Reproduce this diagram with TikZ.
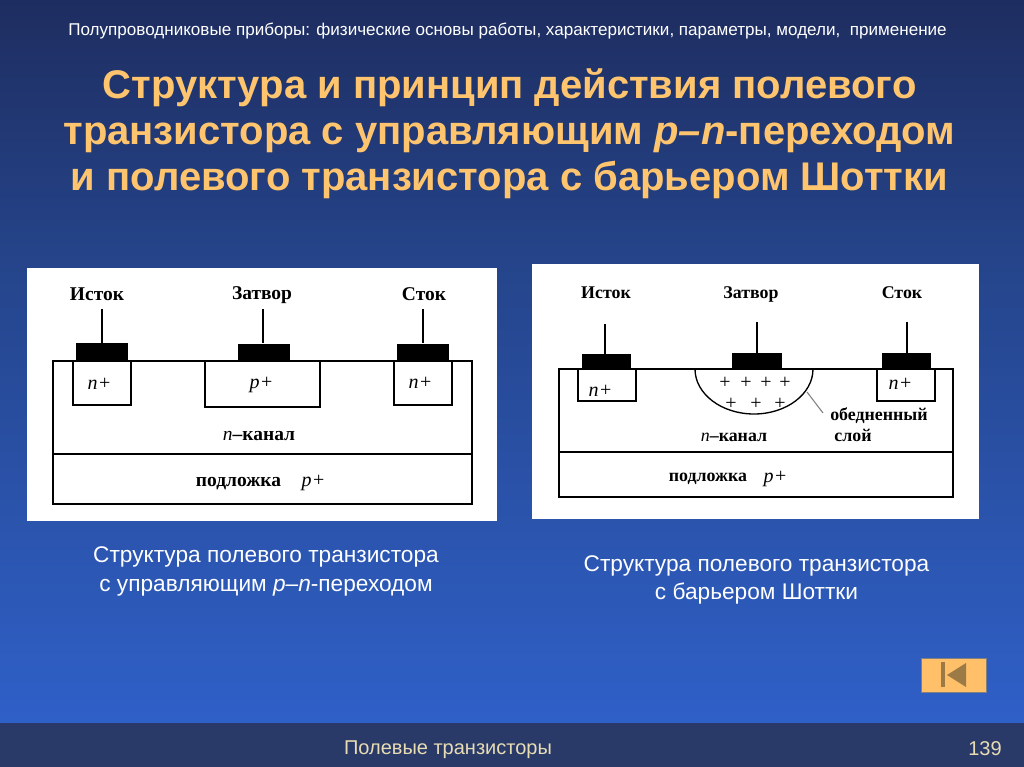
\documentclass[tikz,border=0pt]{standalone}
\usepackage{fontspec}
\setmainfont{Liberation Serif}
\newfontfamily\arialfont{Liberation Sans}
\definecolor{bgtop}{RGB}{30,45,96}
\definecolor{bgmid}{RGB}{37,68,138}
\definecolor{bgbot}{RGB}{47,96,200}
\definecolor{footband}{RGB}{42,58,104}
\definecolor{titlecol}{RGB}{255,196,110}
\definecolor{footcol}{RGB}{232,220,180}
\definecolor{btnfill}{RGB}{255,192,105}
\definecolor{btnicon}{RGB}{156,122,70}
\tikzset{
    pad/.style={fill=black, inner sep=0pt, minimum width=39pt, minimum height=13.5pt},
    padb/.style={pad, minimum width=37pt, minimum height=12pt},
    part/.style={draw=black, line width=1pt},
    lead/.style={draw=black, line width=0.8pt},
    lbl/.style={inner sep=0pt, font=\fontsize{15}{17}\selectfont},
    lblb/.style={lbl, font=\fontsize{14.6}{17}\selectfont\bfseries},
    lblc/.style={lbl, font=\fontsize{13.4}{15}\selectfont\bfseries},
    head/.style={inner sep=0pt, align=center, text=titlecol, font=\arialfont\fontsize{30}{34.5}\selectfont\bfseries},
    capt/.style={inner sep=0pt, align=center, text=white, font=\arialfont\fontsize{17}{21.5}\selectfont},
    foot/.style={inner sep=0pt, text=footcol, font=\arialfont\fontsize{15}{17}\selectfont}
}
\begin{document}
\begin{tikzpicture}[x=0.75pt,y=-0.75pt]
    \useasboundingbox (0,0) rectangle (1024,767);
    \shade[top color=bgtop, bottom color=bgmid] (0,0) rectangle (1024,260);
    \shade[top color=bgmid, bottom color=bgbot] (0,260) rectangle (1024,723);
    \fill[footband] (0,723) rectangle (1024,767);

    \node[inner sep=0pt, text=white, font=\arialfont\fontsize{12.8}{15}\selectfont] (subject) at (507.5, 31) {Полупроводниковые приборы: физические основы работы, характеристики, параметры, модели,\ \ применение};
    \node[head] (title) at (509.5, 134) {Структура и принцип действия полевого\\транзистора с управляющим \textit{p–n}-переходом\\и полевого транзистора с барьером Шоттки};

    % left panel
    \fill[white] (27, 268) rectangle (497, 521);
    \draw[part] (53, 361) rectangle (472, 504);
    \draw[part] (53, 454) -- (472, 454);
    \draw[part] (73, 361) rectangle (131, 405);
    \draw[part] (205, 361) rectangle (320, 407);
    \draw[part] (394, 361) rectangle (452, 405);

    \node[pad] (srcA) at (102, 352) {};
    \node[pad] (gateA) at (264, 352.5) {};
    \node[pad] (drainA) at (423, 352.5) {};
    \coordinate (srcAtop) at (102, 309);
    \coordinate (gateAtop) at (263, 309);
    \coordinate (drainAtop) at (423, 309);
    \draw[lead] (srcAtop) -- (srcA.north -| srcAtop);
    \draw[lead] (gateAtop) -- (gateA.north -| gateAtop);
    \draw[lead] (drainAtop) -- (drainA.north -| drainAtop);

    \node[lblb] (isA) at (97, 294) {Исток};
    \node[lblb] (zaA) at (262, 295) {Затвор};
    \node[lblb] (stA) at (424, 294) {Сток};
    \node[lbl] (nA) at (99, 384) {\textit{n}\kern1pt+};
    \node[lbl] (pA) at (261, 385) {\textit{p}\kern1pt+};
    \node[lbl] (nB) at (420, 383) {\textit{n}\kern1pt+};
    \node[lblb] (chA) at (259, 436) {\textit{\mdseries n}–канал};
    \node[lblb] (subA) at (238.5, 484) {подложка};
    \node[lbl] (psA) at (313, 483) {\textit{p}\kern1pt+};

    % right panel
    \fill[white] (532, 264) rectangle (979, 519);
    \draw[part] (559, 369) rectangle (953, 497);
    \draw[part] (559, 452) -- (953, 452);
    \draw[part] (578, 369) rectangle (636, 401);
    \draw[part] (877, 369) rectangle (935, 401);
    \draw[part] (695, 369) arc[start angle=180, end angle=360, x radius=59, y radius=-45];

    \node[padb] (srcB) at (606.5, 362) {};
    \node[padb] (gateB) at (757, 361) {};
    \node[padb] (drainB) at (906.5, 361) {};
    \coordinate (srcBtop) at (605, 324);
    \coordinate (gateBtop) at (757, 322);
    \coordinate (drainBtop) at (907, 322);
    \draw[lead] (srcBtop) -- (srcB.north -| srcBtop);
    \draw[lead] (gateBtop) -- (gateB.north -| gateBtop);
    \draw[lead] (drainBtop) -- (drainB.north -| drainBtop);

    \foreach \px/\py in {725/383, 746/383, 766/383, 785/383, 731/404, 756/404, 780/404}
        \node[lbl] at (\px, \py) {+};

    \node[lblc] (isB) at (606, 293) {Исток};
    \node[lblc] (zaB) at (751, 294) {Затвор};
    \node[lblc] (stB) at (902, 293) {Сток};
    \node[lbl] (nC) at (600, 391) {\textit{n}\kern1pt+};
    \node[lbl] (nD) at (900, 384) {\textit{n}\kern1pt+};
    \node[lblc] (chB) at (734, 437) {\textit{\mdseries n}–канал};
    \node[lblc] (depB) at (879, 416) {обедненный};
    \node[lblc] (layB) at (853, 435) {слой};
    \node[lblc] (subB) at (708, 479) {подложка};
    \node[lbl] (psB) at (775, 479) {\textit{p}\kern1pt+};
    \coordinate (depArc) at (807, 392);
    \coordinate (depEnd) at (823, 413);
    \draw[gray, line width=0.8pt] (depArc) -- (depEnd);

    % captions
    \node[capt] (captA) at (266, 571.5) {Структура полевого транзистора\\с управляющим \textit{p–n}-переходом};
    \node[capt] (captB) at (756.5, 580) {Структура полевого транзистора\\с барьером Шоттки};

    % back button
    \node[draw=gray, fill=btnfill, inner sep=0pt, minimum width=48.5pt, minimum height=25.5pt] (back) at (953.5, 675) {};
    \fill[btnicon] (941, 662) rectangle (945, 687);
    \fill[btnicon] (947, 675) -- (966, 663) -- (966, 687) -- cycle;

    \node[foot] (section) at (448, 750) {Полевые транзисторы};
    \node[foot] (page) at (985, 749) {139};
\end{tikzpicture}
\end{document}
